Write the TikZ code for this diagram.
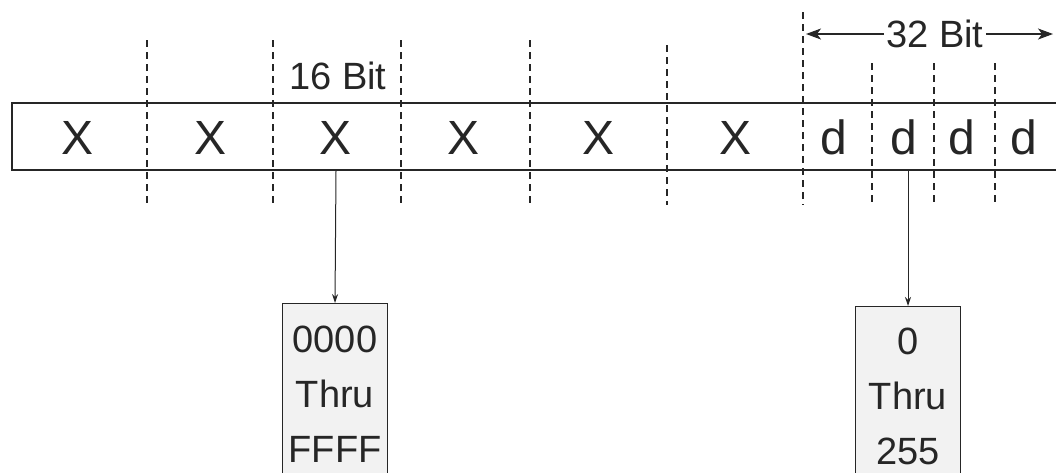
\documentclass[tikz,border=0pt]{standalone}
\usepackage{fontspec}
\setmainfont{Liberation Sans}
\usetikzlibrary{arrows.meta}
\begin{document}
\begin{tikzpicture}[x=1pt,y=-1pt,
  ink/.style={black!85},
  divider/.style={ink, line width=1.2pt, dash pattern=on 7pt off 5pt},
  cell/.style={ink, inner sep=0pt, font=\fontsize{48}{58}\selectfont},
  caption/.style={ink, inner sep=2pt, font=\fontsize{38}{44}\selectfont},
  valbox/.style={draw=black!85, fill=black!5, line width=1.4pt, minimum width=105pt, minimum height=200pt, inner sep=0pt, anchor=north},
  valtext/.style={ink, align=center, inner sep=0pt, font=\fontsize{38}{55}\selectfont},
  pointer/.style={ink, line width=1pt, -{Stealth[length=9pt,width=6pt]}},
  span/.style={ink, line width=1.2pt, -{Stealth[length=15pt,width=11pt,inset=4pt]}}]
\useasboundingbox (0,0) rectangle (1056,472);
\clip (0,0) rectangle (1056,472);

% the address bar, running off the right edge
\node (bar) [draw=black!85, line width=1.5pt, minimum width=1080pt, minimum height=67pt, anchor=north west, inner sep=0pt] at (11,102) {};

% field dividers
\foreach \x in {147,273,401,530} \draw[divider] (\x,40) -- (\x,205);
\draw[divider] (667,45) -- (667,205);
\draw[divider] (803,12) -- (803,205);
\foreach \x in {872,934,995} \draw[divider] (\x,63) -- (\x,205);

% hexadecimal fields
\node (x1) [cell] at (78,138) {X};
\node (x2) [cell] at (211,138) {X};
\node (x3) [cell] at (336,138) {X};
\node (x4) [cell] at (463,138) {X};
\node (x5) [cell] at (598,138) {X};
\node (x6) [cell] at (735,138) {X};

% decimal fields
\node (d1) [cell] at (834,137) {d};
\node (d2) [cell] at (904,137) {d};
\node (d3) [cell] at (962,137) {d};
\node (d4) [cell] at (1024,137) {d};

% width labels
\node (w16) [caption] at (338,76) {16 Bit};
\node (w32) [caption] at (935,34) {32 Bit};
\coordinate (spanL) at (806,34);
\coordinate (spanR) at (1053,34);
\draw[span] (w32.west) -- (spanL);
\draw[span] (w32.east) -- (spanR);

% value ranges
\node (box1) [valbox] at (335,303) {};
\node (t1) [valtext] at (335,394) {0000\\Thru\\FFFF};
\node (box2) [valbox] at (908,306) {};
\node (t2) [valtext] at (908,396) {0\\Thru\\255};

\draw[pointer] (x3.center |- bar.south) -- (box1.north);
\draw[pointer] (908,169) -- (box2.north);
\end{tikzpicture}
\end{document}
